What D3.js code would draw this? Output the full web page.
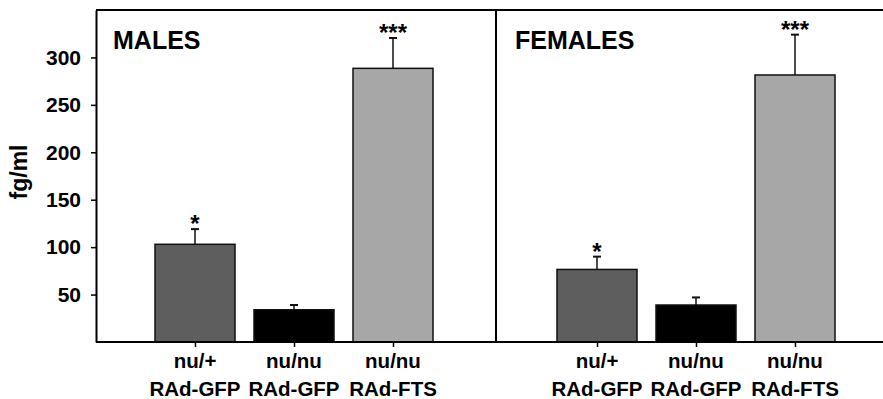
<!DOCTYPE html>
<html>
<head>
<meta charset="utf-8">
<script src="https://cdn.jsdelivr.net/npm/d3@7"></script>
<style>
  body { margin: 0; background: #fff; }
  svg { display: block; font-family: "Liberation Sans", Arial, sans-serif; font-weight: bold; }
</style>
</head>
<body>
<svg id="chart" width="883" height="399"></svg>
<script>
// data
var panels = ["MALES", "FEMALES"];
var groups = ["nu/+ RAd-GFP", "nu/nu RAd-GFP", "nu/nu RAd-FTS"];
var genotypeLabels = ["nu/+", "nu/nu", "nu/nu"];
var vectorLabels = ["RAd-GFP", "RAd-GFP", "RAd-FTS"];
var maleMeans = [103, 34, 288.5];
var maleErrs = [16, 5, 32];
var femaleMeans = [76.5, 39, 281.5];
var femaleErrs = [13.5, 8, 42.5];
var sigMarks = ["*", "", "***"];
var yTicks = [50, 100, 150, 200, 250, 300];
var barColors = ["#5e5e5e", "#000000", "#a7a7a7"];

var svg = d3.select("#chart");
var W = 883;
var plotLeft = 96, plotTop = 10, plotBottom = 342, divider = 496;

var y = d3.scaleLinear().domain([0, 350]).range([plotBottom, plotTop]);

// one point scale per panel
var xScales = [
  d3.scalePoint().domain(groups).range([96, 492]).padding(1),
  d3.scalePoint().domain(groups).range([498, 894]).padding(1)
];
var panelData = [
  groups.map(function(g, i) { return {group: g, mean: maleMeans[i], err: maleErrs[i], sig: sigMarks[i], c: barColors[i]}; }),
  groups.map(function(g, i) { return {group: g, mean: femaleMeans[i], err: femaleErrs[i], sig: sigMarks[i], c: barColors[i]}; })
];
var panelTitleX = [113, 515];
var barW = 80;

// frame lines
svg.append("line").attr("x1", plotLeft).attr("x2", W).attr("y1", plotTop).attr("y2", plotTop)
   .attr("stroke", "#000").attr("stroke-width", 2);
svg.append("line").attr("x1", divider).attr("x2", divider).attr("y1", plotTop).attr("y2", plotBottom)
   .attr("stroke", "#000").attr("stroke-width", 2);

panelData.forEach(function(data, p) {
  var x = xScales[p];
  var g = svg.append("g");

  g.selectAll("rect.bar").data(data).enter().append("rect")
   .attr("class", "bar")
   .attr("x", function(d) { return x(d.group) - barW/2; })
   .attr("y", function(d) { return y(d.mean); })
   .attr("width", barW)
   .attr("height", function(d) { return y(0) - y(d.mean); })
   .attr("fill", function(d) { return d.c; })
   .attr("stroke", "#111")
   .attr("stroke-width", 1.5);

  // upper error bars only
  g.selectAll("line.err").data(data).enter().append("line")
   .attr("class", "err")
   .attr("x1", function(d) { return x(d.group); })
   .attr("x2", function(d) { return x(d.group); })
   .attr("y1", function(d) { return y(d.mean); })
   .attr("y2", function(d) { return y(d.mean + d.err); })
   .attr("stroke", "#111").attr("stroke-width", 1.5);
  g.selectAll("line.cap").data(data).enter().append("line")
   .attr("class", "cap")
   .attr("x1", function(d) { return x(d.group) - 4; })
   .attr("x2", function(d) { return x(d.group) + 4; })
   .attr("y1", function(d) { return y(d.mean + d.err); })
   .attr("y2", function(d) { return y(d.mean + d.err); })
   .attr("stroke", "#111").attr("stroke-width", 2);

  g.selectAll("text.sig").data(data).enter().append("text")
   .attr("class", "sig")
   .attr("x", function(d) { return x(d.group); })
   .attr("y", function(d) { return y(d.mean + d.err) + 3; })
   .attr("text-anchor", "middle")
   .style("font-size", "24px")
   .text(function(d) { return d.sig; });

  // x axis ticks
  var xAxis = d3.axisBottom(x).tickSize(5).tickSizeOuter(0).tickFormat("");
  var ax = g.append("g").attr("transform", "translate(0," + plotBottom + ")").call(xAxis);
  ax.select(".domain").remove();
  ax.selectAll(".tick line").attr("stroke", "#000").attr("stroke-width", 1.5);

  var lbl = g.selectAll("text.xlbl").data(data).enter().append("text")
   .attr("class", "xlbl")
   .attr("text-anchor", "middle")
   .style("font-size", "20.5px");
  lbl.append("tspan")
     .attr("x", function(d) { return x(d.group); })
     .attr("y", 368)
     .text(function(d, i) { return genotypeLabels[i]; });
  lbl.append("tspan")
     .attr("x", function(d) { return x(d.group); })
     .attr("y", 396)
     .text(function(d, i) { return vectorLabels[i]; });

  g.append("text")
   .attr("x", panelTitleX[p])
   .attr("y", 49)
   .style("font-size", "25px")
   .text(panels[p]);
});

// baseline across both panels
svg.append("line").attr("x1", plotLeft).attr("x2", W).attr("y1", y(0)).attr("y2", y(0))
   .attr("stroke", "#000").attr("stroke-width", 2);

// y axis
var yAxis = d3.axisLeft(y).tickValues(yTicks).tickSize(5).tickSizeOuter(0).tickPadding(10);
var yg = svg.append("g").attr("transform", "translate(" + plotLeft + ",0)").call(yAxis);
yg.select(".domain").attr("stroke-width", 2);
yg.selectAll(".tick line").attr("stroke-width", 1.5);
yg.selectAll(".tick text")
  .style("font-size", "21px")
  .style("font-family", "'Liberation Sans', Arial, sans-serif")
  .style("font-weight", "bold")
  .attr("fill", "#000");

svg.append("text")
   .attr("transform", "translate(27,172) rotate(-90)")
   .attr("text-anchor", "middle")
   .style("font-size", "23px")
   .text("fg/ml");
</script>
</body>
</html>
